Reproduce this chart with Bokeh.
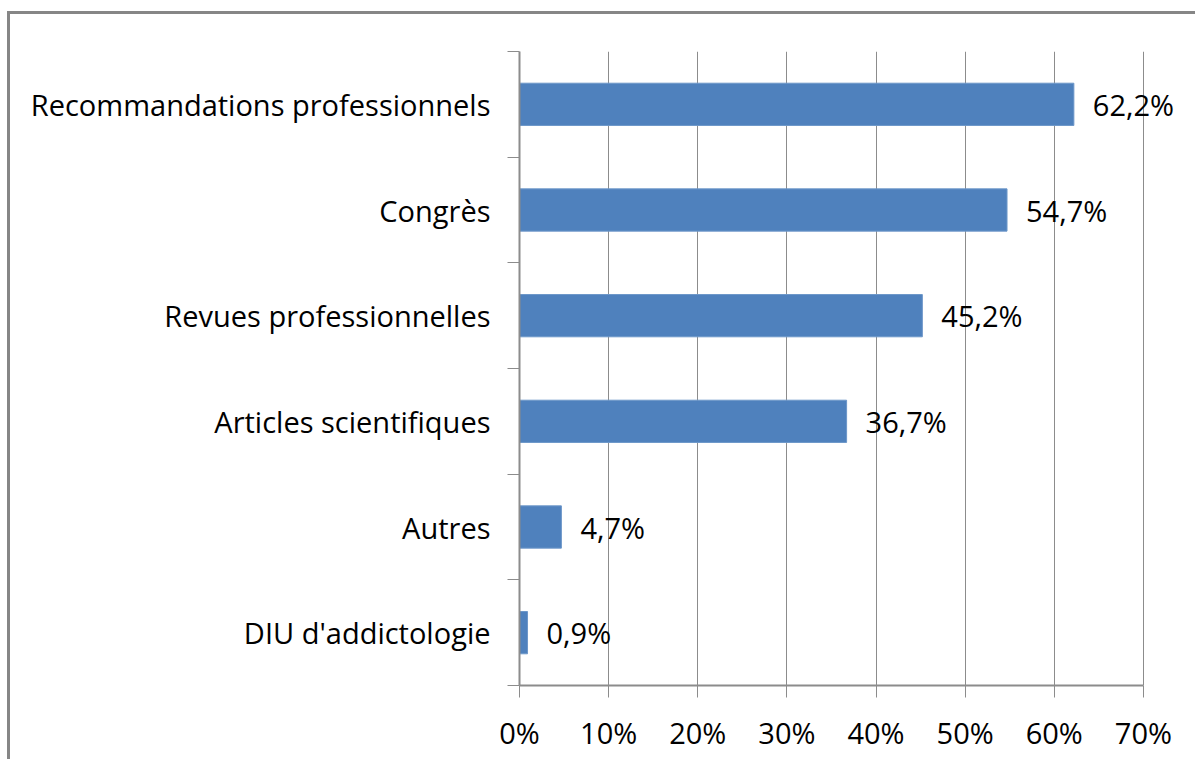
from bokeh.plotting import figure
from bokeh.models import FixedTicker, Range1d, ColumnDataSource, LabelSet
from bokeh.core.properties import value
from bokeh.embed import file_html
from bokeh.resources import INLINE

categories = ["DIU d'addictologie", "Autres", "Articles scientifiques",
              "Revues professionnelles", "Congrès", "Recommandations professionnels"]
values = [0.9, 4.7, 36.7, 45.2, 54.7, 62.2]
value_labels = ["0,9%", "4,7%", "36,7%", "45,2%", "54,7%", "62,2%"]
x_ticks = [0, 10, 20, 30, 40, 50, 60, 70]
x_tick_labels = ["0%", "10%", "20%", "30%", "40%", "50%", "60%", "70%"]

FONT = "Open Sans"
GRAY = "#8c8c8c"
FS = "29px"

ypos = [i + 0.5 for i in range(len(categories))]
src = ColumnDataSource(dict(y=ypos, v=values, lab=value_labels))

p = figure(width=1188, height=748, output_backend="svg", toolbar_location=None,
           x_range=Range1d(0, 74.5), y_range=Range1d(0, len(categories)),
           min_border_left=509, min_border_right=15, min_border_top=37, min_border_bottom=77,
           margin=(11, 0, 0, 7),
           styles={"border-left": "3px solid #868686", "border-top": "3px solid #868686"})
p.outline_line_color = None
p.background_fill_color = "white"
p.border_fill_color = "white"

p.hbar(y="y", right="v", left=0, height=0.4, source=src,
       fill_color="#4F81BD", line_color="#6d97c9", line_width=1)
labels = LabelSet(x="v", y="y", text="lab", source=src, x_offset=19,
                  text_align="left", text_baseline="middle",
                  text_font=value(FONT), text_font_size=FS, text_color="#000000")
p.add_layout(labels)

# x axis
p.xaxis.ticker = FixedTicker(ticks=x_ticks)
p.xaxis.bounds = (x_ticks[0], x_ticks[-1])
p.xaxis.major_label_overrides = {t: l for t, l in zip(x_ticks, x_tick_labels)}
p.xaxis.major_label_text_font = FONT
p.xaxis.major_label_text_font_size = FS
p.xaxis.major_label_text_color = "#000000"
p.xaxis.major_tick_out = 12
p.xaxis.major_tick_in = 0
p.xaxis.minor_tick_line_color = None
p.xaxis.axis_line_color = GRAY
p.xaxis.axis_line_width = 2
p.xaxis.major_tick_line_color = GRAY
p.xaxis.major_tick_line_width = 1
p.xaxis.major_label_standoff = 15

# y axis
p.yaxis.ticker = FixedTicker(ticks=ypos, minor_ticks=list(range(len(categories) + 1)))
p.yaxis.major_label_overrides = {y: c for y, c in zip(ypos, categories)}
p.yaxis.major_label_text_font = FONT
p.yaxis.major_label_text_font_size = FS
p.yaxis.major_label_text_color = "#000000"
p.yaxis.major_tick_line_color = None
p.yaxis.major_tick_out = 0
p.yaxis.major_tick_in = 0
p.yaxis.major_label_standoff = 17
p.yaxis.minor_tick_line_color = GRAY
p.yaxis.minor_tick_out = 12
p.yaxis.minor_tick_in = 0
p.yaxis.axis_line_color = GRAY
p.yaxis.axis_line_width = 2

p.xgrid.ticker = FixedTicker(ticks=x_ticks)
p.xgrid.grid_line_color = GRAY
p.xgrid.grid_line_width = 1
p.ygrid.grid_line_color = None

open("out.html", "w").write(file_html(p, INLINE))
